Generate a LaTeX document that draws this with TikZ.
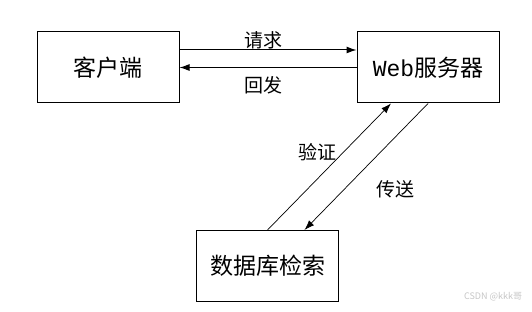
\documentclass[tikz,border=0pt]{standalone}
\usepackage{fontspec}
\setmonofont{Liberation Mono}
\newfontfamily\cjk{Noto Sans CJK SC}
\usetikzlibrary{arrows.meta}

\begin{document}
\begin{tikzpicture}[x=1pt,y=-1pt,
    box/.style={draw,line width=1pt,minimum width=142pt,minimum height=71pt,inner sep=0pt,
        font=\cjk\fontsize{23}{23}\selectfont},
    lab/.style={inner sep=0pt,font=\cjk\fontsize{19}{19}\selectfont},
    arr/.style={-{Latex[length=10pt,width=7pt]},line width=1pt}]
    \useasboundingbox (0,0) rectangle (532,312);

    \node[box] (client) at (108,67.5) {客户端};
    \node[box] (web) at (428,67.5) {{\ttfamily Web}服务器};
    \node[box] (db) at (267.5,266) {数据库检索};

    \draw[arr] ([yshift=17.5pt]client.east) -- ([yshift=17.5pt]web.west);
    \draw[arr] (web.west) -- (client.east);
    \draw[arr,line width=0.7pt] (db.north) -- ([xshift=-37pt]web.south);
    \draw[arr,line width=0.7pt] (web.south) -- ([xshift=37pt]db.north);

    \node[lab] (req) at (263,40) {请求};
    \node[lab] (resp) at (263,85) {回发};
    \node[lab] (check) at (317,152) {验证};
    \node[lab] (send) at (395,189) {传送};

    \node[inner sep=0pt,text=gray!45,font=\cjk\fontsize{9}{9}\selectfont] (mark) at (493,297) {CSDN @kkk哥};
\end{tikzpicture}
\end{document}
